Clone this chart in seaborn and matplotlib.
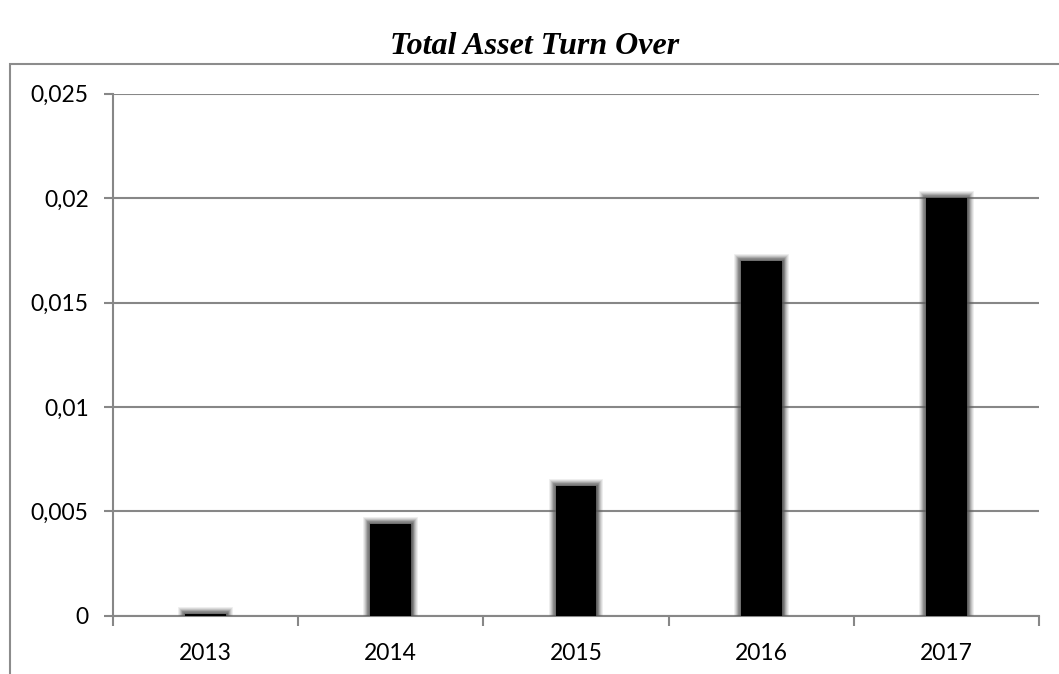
import matplotlib
matplotlib.use("Agg")
import matplotlib.pyplot as plt
import matplotlib.patheffects as pe
from matplotlib.patches import Rectangle
import seaborn as sns
import pandas as pd

# Data
years = ["2013", "2014", "2015", "2016", "2017"]
turnover = [0.0001, 0.0044, 0.0062, 0.0170, 0.0200]
y_ticks = [0, 0.005, 0.01, 0.015, 0.02, 0.025]
y_tick_labels = ["0", "0,005", "0,01", "0,015", "0,02", "0,025"]
title = "Total Asset Turn Over"

df = pd.DataFrame({"year": years, "value": turnover})

sns.set_theme(style="white")
plt.rcParams["font.family"] = ["Lato", "DejaVu Sans"]

W, H = 1059, 674
fig = plt.figure(figsize=(W / 100, H / 100), dpi=100)
fig.patch.set_facecolor("white")

left, right, top, bottom = 113, 1039, 93.7, 615.7
ax = fig.add_axes([left / W, (H - bottom) / H, (right - left) / W, (bottom - top) / H])

grid_col = "#878787"

sns.barplot(data=df, x="year", y="value", color="black", width=0.22,
            saturation=1, ax=ax, zorder=3)

# soft grey glow around each bar, built from stacked translucent strokes
glow = []
for lw, a in [(10, 0.10), (8.5, 0.14), (7, 0.2), (5.5, 0.28), (4, 0.38), (2.5, 0.5)]:
    glow.append(pe.Stroke(linewidth=lw, foreground="#5a5a5a", alpha=a))
glow.append(pe.Normal())
for bar in ax.patches:
    bar.set_edgecolor("none")
    bar.set_path_effects(glow)

ax.set_xlim(-0.5, len(years) - 0.5)
ax.set_ylim(0, 0.025)
ax.set_yticks(y_ticks)
ax.set_yticklabels(y_tick_labels)
ax.set_xlabel("")
ax.set_ylabel("")

ax.yaxis.grid(True, color=grid_col, linewidth=1.5, zorder=0)
ax.xaxis.grid(False)
ax.set_axisbelow(True)

for s in ["top", "right"]:
    ax.spines[s].set_visible(False)
for s in ["left", "bottom"]:
    ax.spines[s].set_color(grid_col)
    ax.spines[s].set_linewidth(1.5)

# category boundary ticks on the x axis
ax.set_xticks([i - 0.5 for i in range(len(years) + 1)], minor=True)
ax.tick_params(axis="x", which="minor", length=7, width=1.5, color=grid_col,
               direction="out", bottom=True)
ax.tick_params(axis="x", which="major", length=0, pad=19.5, labelsize=16.5,
               labelcolor="black")
ax.tick_params(axis="y", which="major", length=6.5, width=1.5, color=grid_col,
               direction="out", left=True, pad=11, labelsize=16.5,
               labelcolor="black")

fig.text(0.5045, 1 - 46 / H, title, ha="center", va="center", color="black",
         fontsize=23, fontweight="bold", fontstyle="italic",
         family=["Liberation Serif", "DejaVu Serif"])

# outer chart frame
fig.patches.append(Rectangle((10 / W, -0.1), 1.2, (H - 64) / H + 0.1,
                             transform=fig.transFigure, fill=False,
                             edgecolor="#8c8c8c", linewidth=1.5))

fig.savefig("out.png", dpi=100, facecolor="white")
